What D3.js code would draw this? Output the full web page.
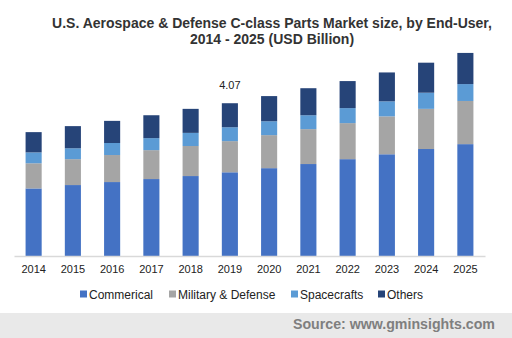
<!DOCTYPE html>
<html>
<head>
<meta charset="utf-8">
<script src="https://cdnjs.cloudflare.com/ajax/libs/d3/7.8.5/d3.min.js"></script>
<style>
  body { margin: 0; background: #fff; }
  svg text { font-family: "Liberation Sans", Arial, sans-serif; }
</style>
</head>
<body>
<div class="chart"></div>
<script>
var svgWidth = 512;
var svgHeight = 338;

var years = ["2014", "2015", "2016", "2017", "2018", "2019", "2020", "2021", "2022", "2023", "2024", "2025"];
var seriesNames = ["Commerical", "Military & Defense", "Spacecrafts", "Others"];
var seriesColors = ["#4472C4", "#A5A5A5", "#5B9BD5", "#264478"];

// values (USD Billion)
var commercial = [1.80, 1.89, 1.97, 2.05, 2.13, 2.23, 2.34, 2.45, 2.58, 2.71, 2.85, 2.98];
var military   = [0.67, 0.69, 0.72, 0.77, 0.80, 0.83, 0.88, 0.93, 0.96, 1.01, 1.07, 1.15];
var spacecraft = [0.29, 0.29, 0.32, 0.32, 0.35, 0.37, 0.37, 0.37, 0.40, 0.40, 0.43, 0.45];
var others     = [0.54, 0.59, 0.59, 0.61, 0.64, 0.64, 0.67, 0.72, 0.72, 0.77, 0.80, 0.83];

var labelYear = "2019";
var labelText = "4.07";

var margin = { top: 0, right: 27, bottom: 82, left: 14 };
var width = svgWidth - margin.left - margin.right;
var height = svgHeight - margin.top - margin.bottom;

var svg = d3.select(".chart")
  .append("svg")
  .attr("width", svgWidth)
  .attr("height", svgHeight);

// title
var title = svg.append("text")
  .attr("text-anchor", "middle")
  .attr("font-weight", "bold")
  .attr("font-size", "14px")
  .attr("fill", "#333");
title.append("tspan").attr("x", 272).attr("y", 28)
  .text("U.S. Aerospace & Defense C-class Parts Market size, by End-User,");
title.append("tspan").attr("x", 272).attr("y", 44)
  .text("2014 - 2025 (USD Billion)");

var chart = svg.append("g")
  .attr("transform", "translate(" + margin.left + "," + margin.top + ")");

var table = years.map(function(y, i) {
  return { year: y, c: commercial[i], m: military[i], s: spacecraft[i], o: others[i] };
});
var keys = ["c", "m", "s", "o"];
var stacked = d3.stack().keys(keys)(table);

var xBandScale = d3.scaleBand()
  .domain(years)
  .range([0, width])
  .paddingInner(0.59)
  .paddingOuter(0.295);

var yLinearScale = d3.scaleLinear()
  .domain([0, 6.82])
  .range([height, 0]);

chart.selectAll("g.layer")
  .data(stacked)
  .enter().append("g")
    .attr("class", "layer")
    .attr("fill", function(d, i) { return seriesColors[i]; })
  .selectAll("rect")
  .data(function(d) { return d; })
  .enter().append("rect")
    .attr("x", function(d) { return xBandScale(d.data.year); })
    .attr("y", function(d) { return yLinearScale(d[1]); })
    .attr("width", xBandScale.bandwidth())
    .attr("height", function(d) { return yLinearScale(d[0]) - yLinearScale(d[1]); });

// x axis
var bottomAxis = d3.axisBottom(xBandScale).tickSize(0).tickPadding(9);
var xAxis = chart.append("g")
  .attr("transform", "translate(0," + height + ")")
  .call(bottomAxis);
xAxis.select(".domain").attr("stroke", "#d9d9d9").attr("stroke-width", 1.5);
xAxis.selectAll("text")
  .attr("font-size", "11px")
  .attr("fill", "#222")
  .style("font-family", "'Liberation Sans', Arial, sans-serif");

// data label
var labelIndex = years.indexOf(labelYear);
var labelTotal = commercial[labelIndex] + military[labelIndex] + spacecraft[labelIndex] + others[labelIndex];
chart.append("text")
  .attr("x", xBandScale(labelYear) + xBandScale.bandwidth() / 2)
  .attr("y", yLinearScale(labelTotal) - 14)
  .attr("text-anchor", "middle")
  .attr("font-size", "11px")
  .attr("fill", "#222")
  .text(labelText);

// legend
var legendX = [80, 169, 291, 378];
var legend = svg.selectAll("g.legend")
  .data(seriesNames)
  .enter().append("g")
    .attr("class", "legend")
    .attr("transform", function(d, i) { return "translate(" + legendX[i] + ",294)"; });
legend.append("rect")
  .attr("x", 0).attr("y", -3.5)
  .attr("width", 7).attr("height", 7)
  .attr("fill", function(d, i) { return seriesColors[i]; });
legend.append("text")
  .attr("x", 9)
  .attr("y", 4.5)
  .attr("font-size", "12px")
  .attr("fill", "#222")
  .text(function(d) { return d; });

// source footer
svg.append("rect")
  .attr("x", 0).attr("y", 313)
  .attr("width", svgWidth).attr("height", 25)
  .attr("fill", "#e9e9e9");
svg.append("text")
  .attr("x", 495)
  .attr("y", 328.5)
  .attr("text-anchor", "end")
  .attr("font-weight", "bold")
  .attr("font-size", "14.2px")
  .attr("fill", "#7f7f7f")
  .text("Source: www.gminsights.com");
</script>
</body>
</html>
